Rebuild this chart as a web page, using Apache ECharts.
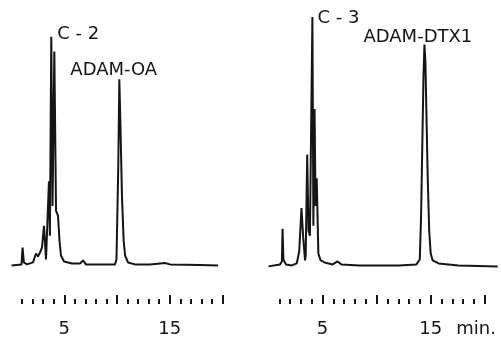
<!DOCTYPE html>
<html>
<head>
<meta charset="utf-8">
<script src="https://cdn.jsdelivr.net/npm/echarts@6/dist/echarts.min.js"></script>
<style>
  html, body { margin: 0; padding: 0; background: #fff; }
  #chart { width: 501px; height: 338px; }
</style>
</head>
<body>
<div id="chart"></div>
<script>
// retention time (min) and detector response
const C2_TIME = [0, 0.95, 1.05, 1.17, 1.47, 2.04, 2.32, 2.51, 2.70, 2.89, 3.08, 3.27, 3.41, 3.55, 3.64,
  3.77, 3.89, 4.06, 4.22, 4.41, 4.55, 4.69, 4.98, 5.73, 6.49, 6.78, 7.06, 8.39, 9.81, 9.95,
  10.12, 10.22, 10.33, 10.47, 10.63, 10.77, 11.04, 11.71, 13.13, 14.55, 15.02, 17.87, 19.58];
const C2_SIGNAL = [0, 1, 18, 3, 1, 3, 12, 9, 13, 18, 40, 6, 6, 85, 30,
  231, 60, 216, 55, 50, 25, 10, 4, 2, 2, 5, 1, 1, 1, 6,
  100, 188, 140, 70, 25, 10, 3, 1, 1, 2.5, 1, 0.5, 0];

const C3_TIME = [0, 1.06, 1.24, 1.30, 1.38, 1.61, 2.16, 2.61, 2.84, 3.05, 3.21, 3.38, 3.44, 3.58, 3.70,
  3.83, 4.06, 4.15, 4.26, 4.35, 4.46, 4.61, 4.82, 5.18, 5.93, 6.38, 6.74, 8.39, 12.06, 13.67,
  13.99, 14.11, 14.22, 14.33, 14.42, 14.51, 14.61, 14.72, 14.86, 15.00, 15.18, 15.73, 17.57, 21.2];
const C3_SIGNAL = [-1, 1, 4, 37, 6, 1, 0, 2, 14, 58, 28, 5, 10, 112, 35,
  30, 251, 40, 158, 60, 88, 12, 5, 3, 1, 4, 1, 0, 0, 1,
  6, 50, 120, 190, 223, 205, 150, 90, 35, 12, 5, 2, 0, -1];

// peak annotations: [time, signal] of the apex they sit on
const C2_PEAKS = [
  { name: "C - 2", coord: [3.77, 231] },
  { name: "ADAM-OA", coord: [10.22, 188] },
];
const C3_PEAKS = [
  { name: "C - 3", coord: [4.06, 251] },
  { name: "ADAM-DTX1", coord: [14.42, 223] },
];
const LABEL_OFFSETS = [[6, -11], [-49, -18], [5, -8], [-61, -16]];

const MINOR_TICKS = [1, 2, 3, 4, 6, 7, 8, 9, 11, 12, 13, 14, 16, 17, 18, 19];
const MAJOR_TICKS = [5, 10, 15, 20];
const TICK_LABELS = [5, 15];

const INK = "#151515";
const FONT = "DejaVu Sans";

const toPairs = (t, s) => t.map((v, i) => [v, s[i]]);

const chart = echarts.init(document.getElementById("chart"), null, { renderer: "canvas" });

function scaleAxes(gridIndex, max, withUnit) {
  const base = {
    type: "value",
    gridIndex,
    min: 0,
    max,
    position: "bottom",
    axisLine: { show: false, onZero: false },
    splitLine: { show: false },
  };
  return [
    {
      ...base,
      axisTick: {
        show: true,
        inside: true,
        length: 5,
        customValues: MINOR_TICKS,
        lineStyle: { color: INK, width: 2 },
      },
      axisLabel: { show: false },
    },
    {
      ...base,
      axisTick: {
        show: true,
        inside: true,
        length: 9,
        customValues: MAJOR_TICKS,
        lineStyle: { color: INK, width: 2 },
      },
      axisLabel: {
        show: true,
        customValues: TICK_LABELS,
        margin: 16,
        color: INK,
        fontFamily: FONT,
        fontSize: 18,
      },
      name: withUnit ? "min." : "",
      nameLocation: "end",
      nameGap: -5,
      nameTextStyle: {
        color: INK,
        fontFamily: FONT,
        fontSize: 18,
        align: "right",
        verticalAlign: "top",
        padding: [16, 0, 0, 0],
      },
    },
  ];
}

function trace(xAxisIndex, yAxisIndex, time, signal, peaks, offsets) {
  return {
    type: "line",
    xAxisIndex,
    yAxisIndex,
    data: toPairs(time, signal),
    showSymbol: false,
    clip: false,
    silent: true,
    lineStyle: { color: INK, width: 2 },
    markPoint: {
      symbol: "circle",
      symbolSize: 0,
      silent: true,
      data: peaks.map((p, i) => ({
        name: p.name,
        coord: p.coord,
        label: {
          show: true,
          formatter: p.name,
          position: offsets[i],
          color: INK,
          fontFamily: FONT,
          fontSize: 18,
        },
      })),
    },
  };
}

chart.setOption({
  animation: false,
  backgroundColor: "#fff",
  grid: [
    { left: 11.5, width: 211, top: 10, bottom: 31 },
    { left: 268.5, width: 234, top: 10, bottom: 31 },
  ],
  xAxis: [...scaleAxes(0, 20, false), ...scaleAxes(1, 21.5, true)],
  yAxis: [0, 1].map((g) => ({
    type: "value",
    gridIndex: g,
    min: -39,
    max: 258,
    show: false,
  })),
  series: [
    trace(0, 0, C2_TIME, C2_SIGNAL, C2_PEAKS, LABEL_OFFSETS.slice(0, 2)),
    trace(2, 1, C3_TIME, C3_SIGNAL, C3_PEAKS, LABEL_OFFSETS.slice(2)),
  ],
});
</script>
</body>
</html>
